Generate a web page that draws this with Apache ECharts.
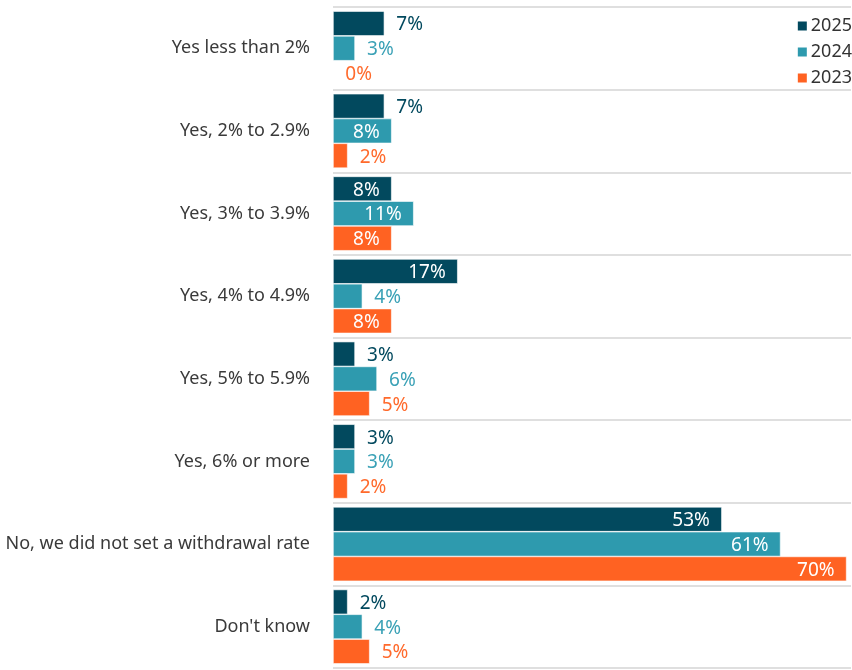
<!DOCTYPE html>
<html>
<head>
<meta charset="utf-8">
<script src="https://cdn.jsdelivr.net/npm/echarts@6/dist/echarts.min.js"></script>
<style>
  html, body { margin: 0; padding: 0; background: #fff; }
  #chart { width: 852px; height: 670px; }
</style>
</head>
<body>
<div id="chart"></div>
<script>
// Withdrawal-rate survey responses by year
const categories = [
  'Yes less than 2%',
  'Yes, 2% to 2.9%',
  'Yes, 3% to 3.9%',
  'Yes, 4% to 4.9%',
  'Yes, 5% to 5.9%',
  'Yes, 6% or more',
  'No, we did not set a withdrawal rate',
  "Don't know"
];
const years = ['2025', '2024', '2023'];
const values2025 = [7, 7, 8, 17, 3, 3, 53, 2];
const values2024 = [3, 8, 11, 4, 6, 3, 61, 4];
const values2023 = [0, 2, 8, 8, 5, 2, 70, 5];

const seriesColors = ['#02495e', '#2e9aae', '#ff6222'];
const outsideLabelColors = ['#02495e', '#3aa1b6', '#ff6a2c'];
const seriesValues = [values2025, values2024, values2023];

const FONT = '"Noto Sans", "Open Sans", sans-serif';
const INSIDE_MIN = 8; // bars this long carry their label inside

function buildData(vals, idx) {
  return vals.map(v => {
    const inside = v >= INSIDE_MIN;
    return {
      value: v,
      label: inside
        ? { position: 'insideRight', distance: 12, color: '#ffffff' }
        : { position: 'right', distance: 12, color: outsideLabelColors[idx] }
    };
  });
}

const chart = echarts.init(document.getElementById('chart'), null, { renderer: 'canvas' });

chart.setOption({
  animation: false,
  textStyle: { fontFamily: FONT },
  legend: {
    data: years,
    orient: 'vertical',
    right: 0,
    top: 12,
    padding: [5, 0, 5, 5],
    itemWidth: 11,
    itemHeight: 11,
    itemGap: 8,
    icon: 'rect',
    textStyle: { fontSize: 18, color: '#333', fontFamily: FONT, padding: [0, 0, 0, -2] }
  },
  grid: { left: 333, right: 1, top: 7, bottom: 2, containLabel: false },
  xAxis: {
    type: 'value',
    min: 0,
    max: 70.6,
    show: false
  },
  yAxis: {
    type: 'category',
    data: categories,
    inverse: true,
    axisLine: { show: false },
    axisTick: { show: false },
    axisLabel: { fontSize: 18, color: '#3a3a3a', margin: 23, fontFamily: FONT },
    splitLine: { show: true, lineStyle: { color: '#d4d4d4', width: 1.5 } }
  },
  series: years.map((y, i) => ({
    name: y,
    type: 'bar',
    data: buildData(seriesValues[i], i),
    barGap: '0%',
    barCategoryGap: '10%',
    itemStyle: { color: seriesColors[i], borderColor: '#ffffff', borderWidth: 0.6 },
    label: {
      show: true,
      formatter: p => p.value + '%',
      fontSize: 19,
      offset: [0, 1.5],
      fontFamily: FONT
    }
  }))
});
</script>
</body>
</html>
